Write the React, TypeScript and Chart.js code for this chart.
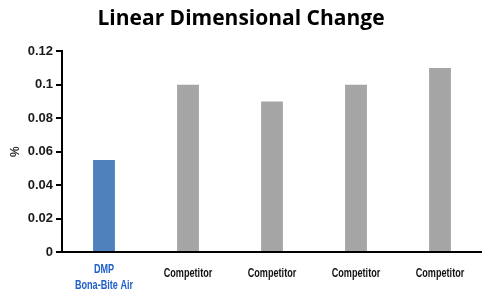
import React, { useEffect, useRef } from "react";
import { Chart, registerables } from "chart.js";

Chart.register(...registerables);

const categories: (string | string[])[] = [["DMP", "Bona-Bite Air"], "Competitor", "Competitor", "Competitor", "Competitor"];
const values = [0.055, 0.1, 0.09, 0.1, 0.11];
const barColors = ["#4F81BD", "#A5A5A5", "#A5A5A5", "#A5A5A5", "#A5A5A5"];
const labelColors = ["#1F5FC8", "#111111", "#111111", "#111111", "#111111"];
const yTickLabels = ["0", "0.02", "0.04", "0.06", "0.08", "0.1", "0.12"];

const condensedLabels = {
  id: "condensedLabels",
  afterDraw(chart: any) {
    const scale = chart.scales.x;
    const ctx = chart.ctx;
    ctx.save();
    ctx.font = "bold 13px 'Liberation Sans', Arial, sans-serif";
    ctx.textAlign = "center";
    ctx.textBaseline = "middle";
    const squeeze = 0.7;
    categories.forEach((lab, i) => {
      const x = scale.getPixelForTick(i);
      const lines = Array.isArray(lab) ? lab : [lab];
      ctx.fillStyle = labelColors[i];
      lines.forEach((line, j) => {
        const y = lines.length > 1 ? scale.top + 17 + j * 16 : scale.top + 21;
        ctx.save();
        ctx.translate(x, y);
        ctx.scale(squeeze, 1);
        ctx.fillText(line, 0, 0);
        ctx.restore();
      });
    });
    ctx.restore();
  },
};

export default function App() {
  const ref = useRef<HTMLCanvasElement | null>(null);
  useEffect(() => {
    document.body.style.margin = "0";
    const ctx = ref.current!;
    const chart = new Chart(ctx, {
      type: "bar",
      data: {
        labels: categories,
        datasets: [
          {
            data: values,
            backgroundColor: barColors,
            borderWidth: 0,
            barPercentage: 0.26,
            categoryPercentage: 1,
          },
        ],
      },
      options: {
        responsive: false,
        animation: false,
        layout: { padding: { left: 0, right: 0, top: 0, bottom: 0 } },
        plugins: {
          legend: { display: false },
          tooltip: { enabled: false },
          title: {
            display: true,
            text: "Linear Dimensional Change",
            color: "#000",
            font: { family: "'Open Sans', Lato, sans-serif", size: 21, weight: "bold", lineHeight: 1.2 },
            padding: { top: 6, bottom: 20 },
          },
        },
        scales: {
          x: {
            grid: { display: false, drawTicks: false },
            border: { display: true, color: "#000", width: 2 },
            ticks: { display: false },
            afterFit: (s: any) => {
              s.height = 39;
            },
          },
          y: {
            min: 0,
            max: 0.12,
            grid: { drawOnChartArea: false, drawTicks: true, tickLength: 6, color: "#000", lineWidth: 2 },
            border: { display: true, color: "#000", width: 2 },
            ticks: {
              stepSize: 0.02,
              padding: 3,
              color: "#1a1a1a",
              font: { family: "'Liberation Sans', Arial, sans-serif", size: 13, weight: "bold" },
              callback: (_v: any, i: number) => yTickLabels[i],
            },
            title: {
              display: true,
              text: "%",
              color: "#333",
              font: { family: "'Liberation Sans', Arial, sans-serif", size: 12, weight: "bold" },
              padding: { top: 8, bottom: 0 },
            },
            afterFit: (s: any) => {
              s.width = 62;
            },
          },
        },
      },
      plugins: [condensedLabels],
    } as any);
    return () => chart.destroy();
  }, []);
  return (
    <div style={{ position: "absolute", left: 0, top: 0, width: 482, height: 291 }}>
      <canvas ref={ref} width={482} height={291} />
    </div>
  );
}
